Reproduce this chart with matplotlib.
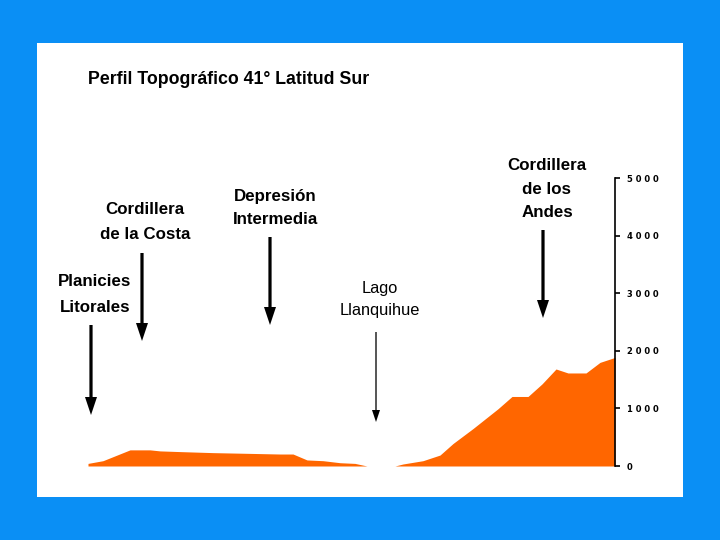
import matplotlib
matplotlib.use("Agg")
import matplotlib.pyplot as plt
from matplotlib.patches import Rectangle, FancyArrow
from matplotlib.transforms import IdentityTransform

# Profile data (distance from the coast, arbitrary units; elevation in m)
dist = [0, 15, 42, 62, 72, 92, 125, 159, 192, 205, 219, 235, 252, 267,
        279, 307, 315, 335, 352, 365, 385, 410, 424, 440, 454, 468, 480,
        498, 512, 527]
elev = [45, 92, 280, 280, 262, 250, 232, 220, 208, 208, 105, 92, 57, 45,
        0, 0, 35, 92, 190, 390, 650, 994, 1207, 1207, 1425, 1684, 1615,
        1615, 1799, 1885]

y_ticks = [0, 1000, 2000, 3000, 4000, 5000]
title = "Perfil Topográfico 41° Latitud Sur"

# Labels: text, centre x (px), first line centre y (px), line step, bold
labels = [
    ("Planicies\nLitorales", 95, 281, 26, True),
    ("Cordillera\nde la Costa", 145, 209, 26, True),
    ("Depresión\nIntermedia", 275, 197, 23, True),
    ("Lago\nLlanquihue", 380, 288, 23, False),
    ("Cordillera\nde los\nAndes", 547, 165, 24, True),
]
# Arrows: x, tail y, tip y (px from top), thick or thin
arrows = [
    (91, 325, 415, True),
    (142, 253, 341, True),
    (270, 237, 325, True),
    (376, 332, 422, False),
    (543, 230, 318, True),
]

W, H = 720, 540
BLUE = "#0a8ff5"
ORANGE = "#ff6600"
FONT = ["Liberation Sans", "DejaVu Sans"]

fig = plt.figure(figsize=(W / 100, H / 100), dpi=100, facecolor=BLUE)
fig.patches.append(Rectangle((37 / W, 1 - 497 / H), 646 / W, 454 / H,
                             transform=fig.transFigure, facecolor="white",
                             edgecolor="none", zorder=-5))

ax = fig.add_axes([88 / W, 1 - 466 / H, 527 / W, 288 / H])
ax.set_facecolor("none")
ax.fill_between(dist, elev, 0, color=ORANGE, linewidth=0)
ax.set_xlim(0, 527)
ax.set_ylim(0, 5000)
for side in ["top", "left", "bottom"]:
    ax.spines[side].set_visible(False)
ax.spines["right"].set_linewidth(1.2)
ax.set_xticks([])
ax.yaxis.tick_right()
ax.set_yticks(y_ticks)
ax.set_yticklabels([" ".join(str(v)) for v in y_ticks])
ax.tick_params(axis="y", direction="out", length=3.5, width=1.2, pad=5,
               labelsize=6)
for t in ax.get_yticklabels():
    t.set_fontweight("bold")

fig.text(88 / W, 1 - 80 / H, title, ha="left", va="center", fontsize=12.8,
         fontweight="bold", family=FONT)

for text, cx, cy, step, bold in labels:
    for i, line in enumerate(text.split("\n")):
        fig.text(cx / W, 1 - (cy + i * step) / H, line, ha="center",
                 va="center", fontsize=12.2 if bold else 11.8,
                 fontweight="bold" if bold else "normal", family=FONT)

# arrows drawn in pixel coordinates (dpi 100 -> 1 unit = 1 px)
for x, y0, y1, thick in arrows:
    if thick:
        w, hw, hl = 3.2, 12, 18
    else:
        w, hw, hl = 1.3, 8, 12
    fig.patches.append(FancyArrow(x, H - y0, 0, -(y1 - y0), width=w,
                                  head_width=hw, head_length=hl,
                                  length_includes_head=True, color="black",
                                  linewidth=0, transform=IdentityTransform()))

fig.savefig("out.png", dpi=100, facecolor=BLUE)
